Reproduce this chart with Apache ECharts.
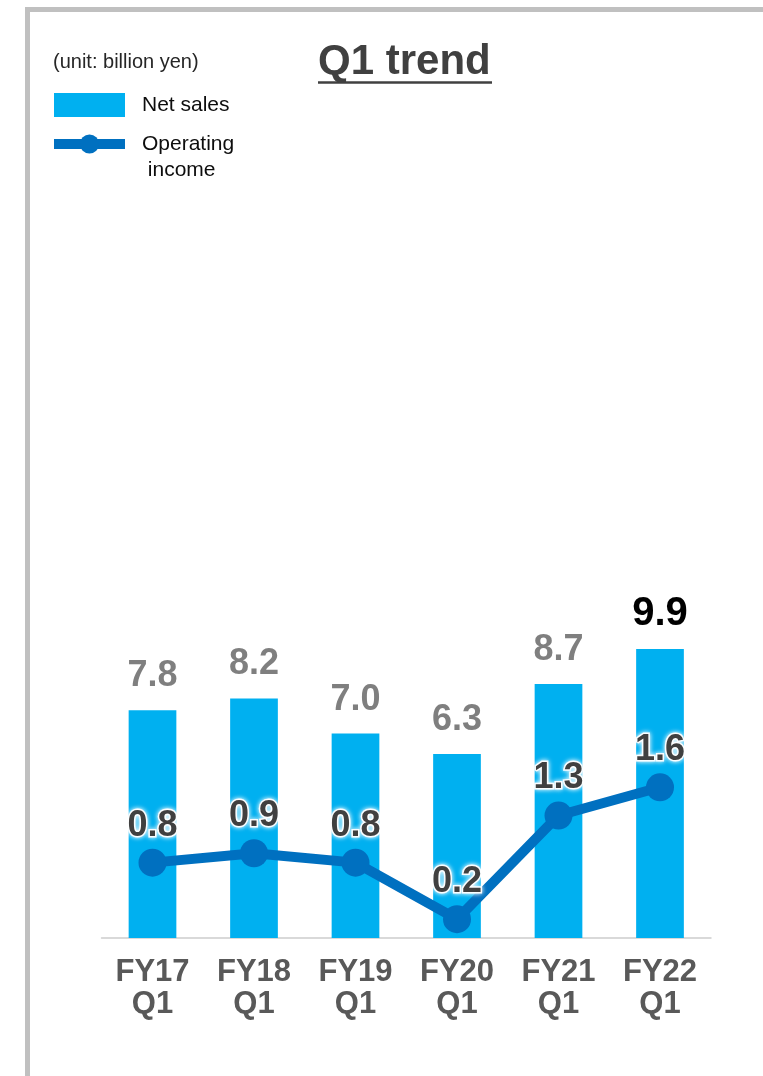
<!DOCTYPE html>
<html>
<head>
<meta charset="utf-8">
<title>Q1 trend</title>
<script src="https://cdn.jsdelivr.net/npm/echarts@6/dist/echarts.min.js"></script>
<style>
  html, body { margin: 0; padding: 0; background: #ffffff; }
  #chart { width: 763px; height: 1076px; }
</style>
</head>
<body>
<div id="chart"></div>
<script>
// Quarterly results (unit: billion yen)
const categories = ['FY17\nQ1', 'FY18\nQ1', 'FY19\nQ1', 'FY20\nQ1', 'FY21\nQ1', 'FY22\nQ1'];
const netSales = [7.8, 8.2, 7.0, 6.3, 8.7, 9.9];
const operatingIncome = [0.8, 0.9, 0.8, 0.2, 1.3, 1.6];

const FONT = '"Liberation Sans", Arial, Helvetica, sans-serif';
const BAR_COLOR = '#00b0f0';
const LINE_COLOR = '#0070c0';
const latest = netSales.length - 1;

// Latest quarter's net sales label is highlighted in black and a touch larger
const salesData = netSales.map((v, i) => i === latest
  ? { value: v, label: { color: '#000000', fontSize: 40, distance: 15 } }
  : v);

const chart = echarts.init(document.getElementById('chart'), null, { renderer: 'canvas' });

chart.setOption({
  animation: false,
  backgroundColor: '#ffffff',
  textStyle: { fontFamily: FONT },
  title: [
    {
      text: 'Q1 trend',
      left: 318,
      top: 41,
      padding: 0,
      textStyle: { fontFamily: FONT, fontSize: 42, fontWeight: 'bold', color: '#404040', lineHeight: 42 }
    },
    {
      text: '(unit: billion yen)',
      left: 53,
      top: 52,
      padding: 0,
      textStyle: { fontFamily: FONT, fontSize: 20, fontWeight: 'normal', color: '#262626', lineHeight: 20 }
    }
  ],
  legend: {
    orient: 'vertical',
    left: 49,
    top: 92,
    padding: 0,
    itemWidth: 71,
    itemHeight: 24,
    itemGap: -13,
    selectedMode: false,
    textStyle: { fontFamily: FONT, fontSize: 21, color: '#0d0d0d', lineHeight: 26 },
    // the blank first line keeps "Operating" level with its icon
    formatter: name => name === 'Operating income' ? ' \nOperating\n income' : name,
    data: [
      { name: 'Net sales', icon: 'rect', textStyle: { padding: [0, 0, 0, 12] } },
      { name: 'Operating income', lineStyle: { width: 10 }, textStyle: { padding: [0, 0, 0, 12] } }
    ]
  },
  grid: { left: 101.75, right: 52.25, top: 646, bottom: 138 },
  xAxis: {
    type: 'category',
    data: categories,
    axisLine: { show: true, lineStyle: { color: '#d9d9d9', width: 2 } },
    axisTick: { show: false },
    axisLabel: {
      interval: 0,
      margin: 18,
      fontFamily: FONT,
      fontSize: 31,
      fontWeight: 'bold',
      color: '#595959',
      lineHeight: 32
    }
  },
  yAxis: [
    { type: 'value', min: 0, max: 10, show: false, splitLine: { show: false } },
    { type: 'value', min: 0, max: 3.1, show: false, splitLine: { show: false } }
  ],
  series: [
    {
      name: 'Net sales',
      type: 'bar',
      data: salesData,
      barWidth: '47%',
      itemStyle: { color: BAR_COLOR },
      label: {
        show: true,
        position: 'top',
        distance: 16,
        fontFamily: FONT,
        fontSize: 36,
        fontWeight: 'bold',
        color: '#7f7f7f',
        formatter: p => p.value.toFixed(1)
      },
      z: 2
    },
    {
      name: 'Operating income',
      type: 'line',
      yAxisIndex: 1,
      data: operatingIncome,
      symbol: 'circle',
      symbolSize: 28,
      lineStyle: { color: LINE_COLOR, width: 10 },
      itemStyle: { color: LINE_COLOR },
      label: {
        show: true,
        position: 'top',
        distance: 5,
        fontFamily: FONT,
        fontSize: 36,
        fontWeight: 'bold',
        color: '#404040',
        textBorderColor: 'rgba(255,255,255,0.95)',
        textBorderWidth: 3,
        textShadowColor: '#ffffff',
        textShadowBlur: 5,
        formatter: p => p.value.toFixed(1)
      },
      z: 3
    }
  ],
  graphic: [
    // slide frame: top and left rules
    { type: 'rect', left: 25, top: 7, shape: { width: 738, height: 5 }, style: { fill: '#c0c0c0' }, silent: true },
    { type: 'rect', left: 25, top: 7, shape: { width: 5, height: 1069 }, style: { fill: '#c0c0c0' }, silent: true },
    // underline beneath the heading
    { type: 'line', shape: { x1: 318, y1: 82.5, x2: 492, y2: 82.5 }, style: { stroke: '#404040', lineWidth: 2.5 }, silent: true }
  ]
});
</script>
</body>
</html>
